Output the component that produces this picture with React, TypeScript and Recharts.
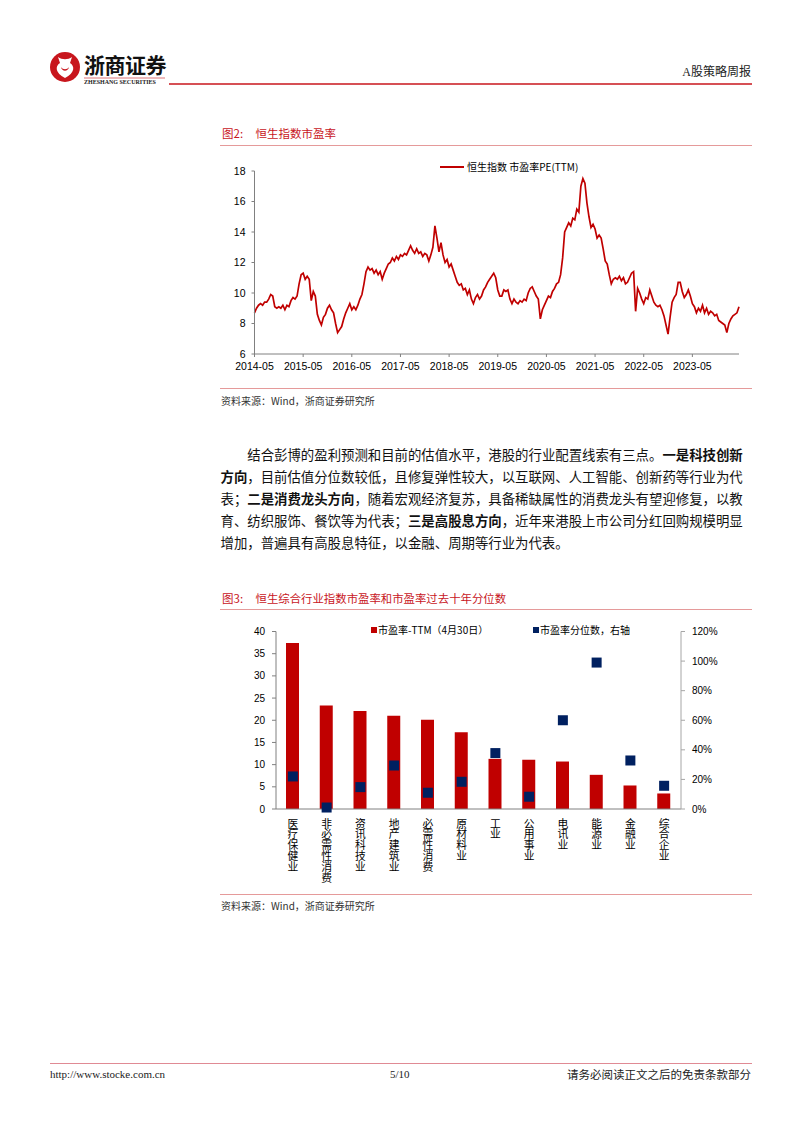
import React from "react";
import {
  LineChart,
  Line,
  XAxis,
  YAxis,
  ComposedChart,
  Bar,
} from "recharts";

// ---------- Chart 1: 恒生指数 市盈率PE(TTM), semi-monthly readings, May -> April ----------
const pe2014 = [8.7, 9.0, 9.2, 9.3, 9.2, 9.4, 9.4, 9.6, 9.9, 9.8, 9.1, 9.0, 9.1, 9.0, 9.2, 8.9, 9.2, 9.1, 9.5, 9.7, 9.6, 9.8, 10.6, 11.2];
const pe2015 = [11.3, 10.9, 11.1, 10.9, 9.5, 10.1, 9.8, 8.6, 8.2, 7.9, 8.4, 8.6, 9.0, 9.2, 8.9, 8.7, 8.0, 7.4, 7.6, 7.8, 8.3, 8.7, 9.0, 9.3];
const pe2016 = [8.9, 9.1, 8.9, 9.2, 9.6, 9.9, 10.6, 11.4, 11.7, 11.5, 11.6, 11.3, 11.5, 11.2, 11.4, 10.9, 11.3, 11.6, 11.9, 12.0, 12.3, 12.1, 12.4, 12.2];
const pe2017 = [12.5, 12.4, 12.6, 12.5, 12.8, 13.1, 12.8, 12.6, 12.9, 12.6, 12.7, 12.4, 12.6, 12.5, 12.1, 12.5, 13.0, 14.4, 13.6, 12.7, 13.3, 12.5, 12.0, 12.2];
const pe2018 = [11.7, 11.9, 11.5, 11.1, 10.7, 10.5, 10.6, 10.2, 10.3, 9.9, 10.2, 9.6, 9.3, 9.7, 9.9, 9.6, 9.8, 10.2, 10.4, 10.7, 10.9, 11.1, 11.3, 11.0];
const pe2019 = [10.2, 9.8, 9.8, 10.2, 10.1, 10.2, 9.6, 9.3, 9.6, 9.4, 9.3, 9.5, 9.4, 9.6, 9.5, 10.0, 10.3, 10.4, 10.1, 9.8, 9.6, 8.3, 8.9, 9.2];
const pe2020 = [9.5, 9.8, 9.7, 10.1, 10.3, 10.6, 10.7, 11.2, 12.3, 14.0, 14.3, 14.6, 14.4, 14.9, 14.8, 15.5, 15.3, 17.0, 17.5, 17.2, 15.9, 15.0, 14.3, 14.5];
const pe2021 = [14.2, 13.6, 13.8, 13.6, 12.9, 12.1, 11.9, 11.2, 10.6, 10.9, 11.0, 10.9, 11.1, 10.8, 11.0, 10.6, 10.7, 11.0, 11.3, 11.4, 8.8, 10.3, 10.0, 9.6];
const pe2022 = [9.3, 9.7, 9.6, 10.2, 9.8, 9.4, 9.2, 9.1, 9.2, 8.9, 8.5, 7.9, 7.3, 8.4, 9.4, 9.7, 9.9, 10.7, 10.7, 10.1, 9.7, 9.9, 10.2, 9.8];
const pe2023 = [9.3, 9.1, 8.7, 9.0, 8.8, 9.2, 8.7, 9.0, 8.6, 8.8, 8.7, 8.5, 8.6, 8.2, 8.1, 8.0, 7.9, 7.4, 8.0, 8.3, 8.5, 8.6, 8.7, 9.1];

const peValues = [
  ...pe2014, ...pe2015, ...pe2016, ...pe2017, ...pe2018,
  ...pe2019, ...pe2020, ...pe2021, ...pe2022, ...pe2023,
];

const pad = (n: number) => (n < 10 ? "0" + n : "" + n);
const peDates: string[] = peValues.map((_, i) => {
  const m = 4 + Math.floor(i / 2);
  const year = 2014 + Math.floor(m / 12);
  const mon = (m % 12) + 1;
  return `${year}-${pad(mon)}-${i % 2 === 0 ? "01" : "16"}`;
});
const peTicks = ["2014-05-01", "2015-05-01", "2016-05-01", "2017-05-01", "2018-05-01", "2019-05-01", "2020-05-01", "2021-05-01", "2022-05-01", "2023-05-01"];
const peYTicks = [6, 8, 10, 12, 14, 16, 18];
const peData = peValues.map((v, i) => ({ date: peDates[i], pe: v }));

// ---------- Chart 2: 恒生综合行业指数 ----------
const industries = ["医疗保健业", "非必需性消费", "资讯科技业", "地产建筑业", "必需性消费", "原材料业", "工业", "公用事业", "电讯业", "能源业", "金融业", "综合企业"];
const peTTM = [37.4, 23.3, 22.1, 21.0, 20.1, 17.3, 11.3, 11.1, 10.7, 7.7, 5.3, 3.5];
const pePercentile = [22, 1, 14.8, 29.4, 11, 18.4, 37.8, 8.3, 60, 99, 32.8, 15.7];
const leftTicks = [0, 5, 10, 15, 20, 25, 30, 35, 40];
const rightTicks = [0, 20, 40, 60, 80, 100, 120];
const industryData = industries.map((n, i) => ({ name: n, pe: peTTM[i], pct: pePercentile[i] }));

const RED = "#c00000";
const NAVY = "#002060";
const CJK = '"Noto Sans CJK SC", "Liberation Sans", sans-serif';
const LAT = '"Liberation Sans", Arial, "Noto Sans CJK SC", sans-serif';
const SERIF = '"Liberation Serif", "Noto Sans CJK SC", serif';

const VerticalTick = (props: any) => {
  const { x, y, payload } = props;
  return (
    <text
      x={x}
      y={Number(y) + 7}
      textAnchor="start"
      fontSize={10.8}
      fill="#000"
      fontFamily={CJK}
      style={{ writingMode: "vertical-rl" as any }}
    >
      {String(payload.value)}
    </text>
  );
};

const SquareDot = (props: any) => {
  const { cx, cy, index } = props;
  if (cx == null || cy == null) return <g key={`s${index}`} />;
  return <rect key={`s${index}`} x={cx - 5} y={cy - 5} width={10} height={10} fill={NAVY} />;
};

const abs = (left: number, top: number): React.CSSProperties => ({ position: "absolute", left, top });

const Para = ({ top, children, indent }: { top: number; children: React.ReactNode; indent?: boolean }) => (
  <div
    style={{
      position: "absolute",
      left: indent ? 247.3 : 220.5,
      top: top - 10,
      fontSize: 13.4,
      lineHeight: "20px",
      whiteSpace: "nowrap",
      fontFamily: CJK,
      color: "#111",
    }}
  >
    {children}
  </div>
);

export default function App() {
  return (
    <div style={{ position: "absolute", left: 0, top: 0, width: 802, height: 1133, background: "#fff", overflow: "hidden" }}>
      {/* Header */}
      <svg style={abs(0, 0)} width={802} height={100}>
        <circle cx={65} cy={67} r={15} fill="#c8161d" />
        <path d="M58 57 C 62 60, 68 60, 72 57 L 70 63 C 75 66, 75 73, 65 78 C 55 73, 55 66, 60 63 Z" fill="#fff" />
        <path d="M61 67 C 63 70, 67 70, 69 67 C 68 72, 62 72, 61 67 Z" fill="#c8161d" />
        <line x1={169} y1={84} x2={752} y2={84} stroke="#c8161d" strokeWidth={1.5} />
        <line x1={84} y1={78} x2={165} y2={78} stroke="#c8161d" strokeWidth={0.6} />
      </svg>
      <div style={{ ...abs(84, 51), fontSize: 21, fontWeight: 700, fontFamily: CJK, lineHeight: "26px", color: "#111", letterSpacing: -0.5 }}>浙商证券</div>
      <div style={{ ...abs(84, 79), fontSize: 6, fontFamily: SERIF, fontWeight: 700, lineHeight: "7px", color: "#222", whiteSpace: "nowrap" }}>ZHESHANG SECURITIES</div>
      <div style={{ position: "absolute", right: 51, top: 65, fontSize: 12, fontFamily: SERIF, lineHeight: "15px", color: "#222" }}>A股策略周报</div>

      {/* Figure 2 title */}
      <div style={{ ...abs(222, 125), fontSize: 11.5, fontFamily: CJK, color: "#c8161d", lineHeight: "16px" }}>图2:</div>
      <div style={{ ...abs(255.5, 125), fontSize: 11.5, fontFamily: CJK, color: "#c8161d", lineHeight: "16px" }}>恒生指数市盈率</div>
      <div style={{ ...abs(220, 145), width: 532, height: 1, background: "#e59a9a" }} />

      {/* Chart 1 */}
      <div style={abs(200, 150)}>
        <LineChart width={560} height={240} data={peData} margin={{ top: 21, right: 21, left: 24.5, bottom: 6 }}>
          <XAxis
            dataKey="date"
            ticks={peTicks}
            interval={0}
            tickFormatter={(d: string) => d.slice(0, 7)}
            height={30}
            tickSize={3}
            tickMargin={6}
            axisLine={{ stroke: "#808080" }}
            tickLine={{ stroke: "#808080" }}
            tick={{ fontSize: 10.5, fill: "#000", fontFamily: LAT }}
          />
          <YAxis
            domain={[6, 18]}
            ticks={peYTicks}
            interval={0}
            width={30}
            tickSize={3}
            tickMargin={6}
            axisLine={{ stroke: "#808080" }}
            tickLine={{ stroke: "#808080" }}
            tick={{ fontSize: 10.5, fill: "#000", fontFamily: LAT }}
          />
          <Line type="linear" dataKey="pe" stroke={RED} strokeWidth={1.7} dot={false} isAnimationActive={false} />
        </LineChart>
      </div>
      {/* Legend chart 1 */}
      <div style={{ ...abs(440, 166), width: 24, height: 2, background: RED }} />
      <div style={{ ...abs(467, 160), fontSize: 10, fontFamily: CJK, lineHeight: "14px", color: "#000", whiteSpace: "nowrap" }}>恒生指数 市盈率PE(TTM)</div>

      {/* Source 1 */}
      <div style={{ ...abs(220, 388), width: 532, height: 1, background: "#e59a9a" }} />
      <div style={{ ...abs(221, 394), fontSize: 10, fontFamily: CJK, lineHeight: "14px", color: "#333" }}>资料来源：Wind，浙商证券研究所</div>

      {/* Paragraph */}
      <Para top={454} indent>
        结合彭博的盈利预测和目前的估值水平，港股的行业配置线索有三点。<b>一是科技创新</b>
      </Para>
      <Para top={476}>
        <b>方向</b>，目前估值分位数较低，且修复弹性较大，以互联网、人工智能、创新药等行业为代
      </Para>
      <Para top={498}>
        表；<b>二是消费龙头方向</b>，随着宏观经济复苏，具备稀缺属性的消费龙头有望迎修复，以教
      </Para>
      <Para top={520}>
        育、纺织服饰、餐饮等为代表；<b>三是高股息方向</b>，近年来港股上市公司分红回购规模明显
      </Para>
      <Para top={542}>增加，普遍具有高股息特征，以金融、周期等行业为代表。</Para>

      {/* Figure 3 title */}
      <div style={{ ...abs(222, 590), fontSize: 11.5, fontFamily: CJK, color: "#c8161d", lineHeight: "16px" }}>图3:</div>
      <div style={{ ...abs(255.5, 590), fontSize: 11.4, fontFamily: CJK, color: "#c8161d", lineHeight: "16px", whiteSpace: "nowrap" }}>
        恒生综合行业指数市盈率和市盈率过去十年分位数
      </div>
      <div style={{ ...abs(220, 609), width: 532, height: 1, background: "#e59a9a" }} />

      {/* Chart 2 */}
      <div style={abs(210, 615)}>
        <ComposedChart width={550} height={280} data={industryData} margin={{ top: 16.5, right: 29, left: 26, bottom: 6 }}>
          <XAxis
            dataKey="name"
            interval={0}
            height={80}
            tickLine={false}
            tickSize={0}
            axisLine={{ stroke: "#808080" }}
            tick={<VerticalTick />}
          />
          <YAxis
            yAxisId="left"
            domain={[0, 40]}
            ticks={leftTicks}
            interval={0}
            width={40}
            tickSize={4}
            tickMargin={7}
            axisLine={{ stroke: "#808080" }}
            tickLine={{ stroke: "#808080" }}
            tick={{ fontSize: 10, fill: "#000", fontFamily: LAT }}
          />
          <YAxis
            yAxisId="right"
            orientation="right"
            domain={[0, 120]}
            ticks={rightTicks}
            interval={0}
            width={50}
            tickSize={4}
            tickMargin={7}
            tickFormatter={(v: number) => `${v}%`}
            axisLine={{ stroke: "#a6a6a6" }}
            tickLine={{ stroke: "#a6a6a6" }}
            tick={{ fontSize: 10, fill: "#000", fontFamily: LAT }}
          />
          <Bar yAxisId="left" dataKey="pe" fill={RED} barSize={13} isAnimationActive={false} />
          <Line
            yAxisId="right"
            dataKey="pct"
            stroke="none"
            strokeWidth={0}
            dot={SquareDot}
            activeDot={false}
            isAnimationActive={false}
          />
        </ComposedChart>
      </div>
      {/* Legend chart 2 */}
      <div style={{ ...abs(371, 627), width: 6, height: 6, background: RED }} />
      <div style={{ ...abs(378, 623), fontSize: 10, fontFamily: CJK, lineHeight: "14px", color: "#000", whiteSpace: "nowrap" }}>市盈率-TTM（4月30日）</div>
      <div style={{ ...abs(533, 627), width: 6, height: 6, background: NAVY }} />
      <div style={{ ...abs(540, 623), fontSize: 10, fontFamily: CJK, lineHeight: "14px", color: "#000", whiteSpace: "nowrap" }}>市盈率分位数，右轴</div>

      {/* Source 2 */}
      <div style={{ ...abs(220, 894), width: 532, height: 1, background: "#e59a9a" }} />
      <div style={{ ...abs(221, 899), fontSize: 10, fontFamily: CJK, lineHeight: "14px", color: "#333" }}>资料来源：Wind，浙商证券研究所</div>

      {/* Footer */}
      <div style={{ ...abs(50, 1063), width: 702, height: 1, background: "#e08a94" }} />
      <div style={{ ...abs(50, 1067), fontSize: 11, fontFamily: SERIF, lineHeight: "14px", color: "#222" }}>http://www.stocke.com.cn</div>
      <div style={{ ...abs(390, 1067), fontSize: 11, fontFamily: SERIF, lineHeight: "14px", color: "#222" }}>5/10</div>
      <div style={{ position: "absolute", right: 51, top: 1067, fontSize: 11.5, fontFamily: CJK, lineHeight: "14px", color: "#222" }}>请务必阅读正文之后的免责条款部分</div>
    </div>
  );
}
